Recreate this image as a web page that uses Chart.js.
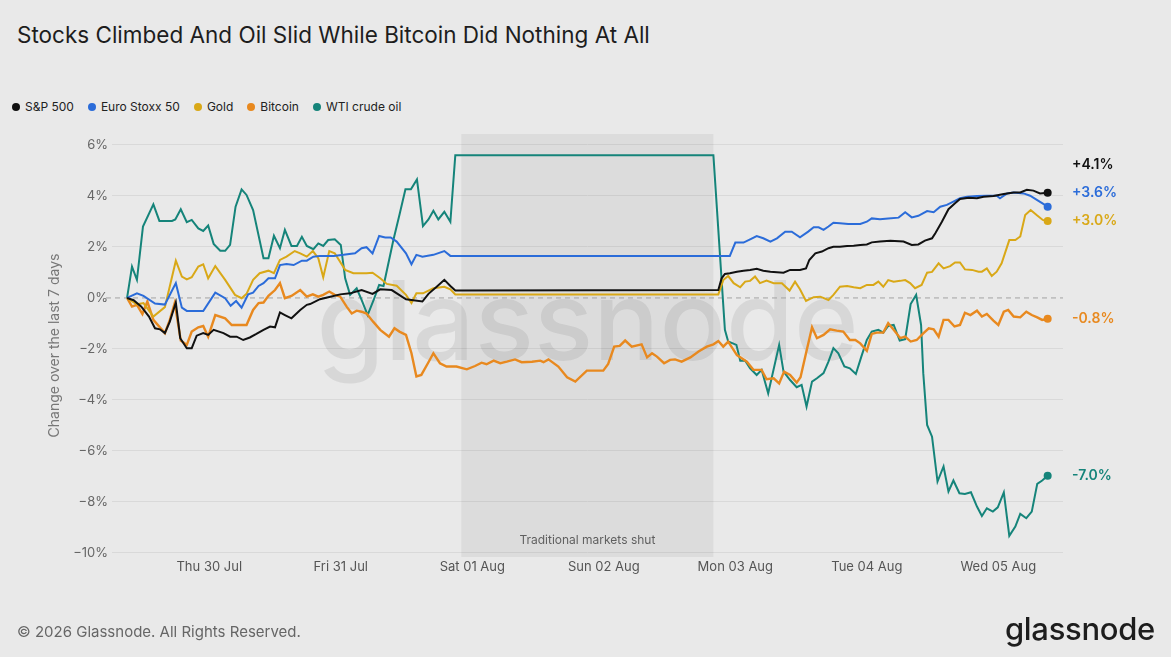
<!DOCTYPE html>
<html>
<head>
<meta charset="utf-8">
<script src="https://cdn.jsdelivr.net/npm/chart.js@4.4.1/dist/chart.umd.min.js"></script>
<style>
  html, body { margin: 0; padding: 0; background: #e9e9e9; }
  body { width: 1171px; height: 657px; position: relative; overflow: hidden; font-family: Inter, "Noto Sans", sans-serif; }
  #title { position: absolute; left: 17px; top: 21px; font-size: 22.5px; line-height: 28px; color: #1d1d1d; }
  #legend { position: absolute; left: 12px; top: 99px; display: flex; font-size: 12px; line-height: 16px; color: #222; }
  #legend .item { display: flex; align-items: center; margin-right: 14px; }
  #legend i { width: 8px; height: 8px; border-radius: 50%; margin-right: 5px; display: inline-block; }
  #footer { position: absolute; left: 17px; top: 622px; font-size: 15px; line-height: 20px; color: #666; }
  #logo { position: absolute; right: 16px; top: 611px; font-size: 31px; line-height: 36px; font-weight: 500; color: #1d1d1d; letter-spacing: -0.3px; }
  canvas { position: absolute; left: 0; top: 0; }
</style>
</head>
<body>
<div id="title">Stocks Climbed And Oil Slid While Bitcoin Did Nothing At All</div>
<div id="legend"></div>
<canvas id="chart" width="1171" height="657"></canvas>
<div id="footer">© 2026 Glassnode. All Rights Reserved.</div>
<div id="logo">glassnode</div>
<script>
// x values are hours since Wed 29 Jul 00:00
const seriesNames = ['S&P 500', 'Euro Stoxx 50', 'Gold', 'Bitcoin', 'WTI crude oil'];
const seriesColors = ['#111111', '#2b6cd9', '#d9a817', '#e8891f', '#15847a'];
const dayHours = [24, 48, 72, 96, 120, 144, 168];
const dayLabels = ['Thu 30 Jul', 'Fri 31 Jul', 'Sat 01 Aug', 'Sun 02 Aug', 'Mon 03 Aug', 'Tue 04 Aug', 'Wed 05 Aug'];
const yTicks = [-10, -8, -6, -4, -2, 0, 2, 4, 6];
const marketsShut = [70, 116];

const spx = [[9,0],[10.2,-0.09],[11.6,-0.34],[13,-0.73],[14.1,-1.19],[15,-1.23],[15.9,-1.38],[16.8,-0.93],[17.9,-0.18],[18.7,-1.58],[19.9,-1.97],[20.8,-1.97],[21.7,-1.48],[22.9,-1.38],[23.8,-1.45],[24.8,-1.25],[26.6,-1.38],[27.8,-1.52],[29,-1.52],[30.2,-1.65],[31.4,-1.55],[32.6,-1.41],[33.9,-1.25],[35.1,-1.12],[36,-1.15],[36.9,-0.57],[37.8,-0.67],[39,-0.8],[40.6,-0.47],[41.8,-0.27],[42.4,-0.24],[44.2,-0.05],[46.1,0.05],[47.9,0.14],[49.7,0.18],[51.8,0.31],[53.8,0.16],[55.2,0.34],[57.3,0.31],[59.9,-0.05],[60.9,-0.08],[62.9,-0.14],[64,0.16],[65.5,0.44],[66.9,0.71],[68,0.47],[68.9,0.29],[116.9,0.31],[117.5,0.77],[118.1,0.94],[119,0.97],[120.3,1.03],[121.5,1.07],[122.7,1.1],[123.9,1.14],[125.1,1.07],[126.4,1.03],[127.6,1.01],[128.8,0.99],[130,1.1],[131.8,1.1],[132.9,1.16],[133.5,1.49],[134.6,1.75],[135.8,1.82],[137,1.95],[137.9,2.01],[139.1,2.01],[140.4,2.04],[141.6,2.05],[142.8,2.08],[144,2.1],[144.9,2.18],[146.4,2.21],[148.3,2.24],[150.7,2.21],[152.2,2.08],[153.4,2.1],[154.6,2.25],[155.9,2.34],[156.5,2.54],[157.7,2.99],[158.9,3.48],[160.1,3.71],[161,3.88],[162.6,3.93],[164.1,3.91],[165.3,3.97],[167.1,4.0],[169,4.08],[170.8,4.14],[172,4.14],[173.2,4.24],[174.4,4.21],[175.6,4.1],[177,4.13]];

const stoxx = [[9,0],[10.8,0.18],[12,0.08],[14.1,-0.22],[15.9,-0.26],[17.9,0.58],[19,-0.38],[19.9,-0.51],[22.9,-0.51],[25.1,0.21],[26.9,-0.01],[27.9,-0.31],[28.9,-0.12],[29.9,-0.38],[31.1,0.14],[32,0.21],[33,0.47],[33.9,0.58],[34.8,0.77],[36,0.77],[36.9,1.29],[38.1,1.33],[39.4,1.29],[40.9,1.46],[41.8,1.46],[43,1.62],[44.2,1.65],[46.7,1.65],[48.5,1.69],[50.6,1.75],[51.8,1.95],[52.7,1.99],[53.8,1.75],[55,2.43],[56.1,2.37],[57.1,2.37],[58.2,2.21],[59.9,1.75],[60.9,1.32],[61.8,1.69],[62.9,1.62],[64.9,1.69],[66.9,1.84],[68,1.65],[119,1.65],[120,2.17],[121.5,2.17],[122.7,2.3],[123.9,2.43],[125.1,2.34],[126.4,2.21],[127.6,2.34],[129.1,2.6],[130.3,2.6],[131.8,2.38],[133.3,2.6],[134.3,2.77],[135.2,2.77],[136.1,2.67],[137,2.8],[137.9,2.95],[139.1,2.93],[140.6,2.9],[142.8,2.9],[144,2.99],[144.9,3.12],[146.4,3.09],[147.9,3.12],[149.8,3.15],[151,3.36],[152.2,3.16],[153.4,3.22],[155,3.41],[156.2,3.36],[157.4,3.58],[158.6,3.65],[159.8,3.78],[161,3.91],[162.3,3.97],[164.1,4.0],[165.9,4.01],[167.7,4.01],[168.3,3.91],[169.6,4.1],[170.8,4.14],[172.6,4.1],[173.8,4.01],[175.1,3.84],[176.2,3.69],[177,3.58]];

const gold = [[9,0],[10.8,-0.25],[12,-0.2],[13.8,-0.73],[15.9,-0.36],[17.9,1.46],[19,0.84],[19.9,0.73],[20.8,0.81],[22,1.23],[22.9,1.32],[23.8,0.77],[25.1,1.25],[26.9,0.71],[28.7,0.12],[29.9,-0.01],[30.8,0.16],[32,0.71],[33.2,0.97],[34.8,1.07],[35.8,0.97],[36.9,1.49],[38.1,1.62],[39.6,1.84],[40.6,1.75],[41.8,1.62],[42.9,1.84],[43.9,1.56],[44.8,0.81],[45.9,1.84],[46.9,1.75],[48.8,1.1],[50.3,0.97],[52.7,0.97],[53.8,0.99],[55.2,0.77],[56.4,0.55],[58.2,0.48],[59.9,0.12],[60.9,-0.2],[61.8,0.18],[63,0.18],[64.9,0.38],[66.9,0.44],[68,0.34],[68.9,0.14],[116.9,0.14],[117.8,0.7],[118.7,0.86],[119.7,0.58],[120.9,0.42],[121.8,0.64],[122.7,0.67],[123.6,0.84],[124.5,0.58],[125.7,0.68],[127,0.58],[128.5,0.58],[129.9,0.29],[130.9,0.64],[131.8,0.34],[132.9,-0.12],[134.3,0.03],[135.5,0.05],[137,-0.08],[137.9,0.12],[139.1,0.44],[140.4,0.47],[141.6,0.42],[142.8,0.38],[144,0.51],[145.2,0.51],[146.1,0.64],[147,0.44],[147.9,0.7],[148.9,0.64],[150.1,0.67],[151,0.7],[151.9,0.58],[152.8,0.38],[154,0.51],[155,0.99],[155.9,1.02],[157.1,1.36],[158,1.16],[159.2,1.25],[160.1,1.39],[161,1.39],[161.9,1.12],[163.2,1.1],[164.4,1.03],[165,1.03],[165.9,1.16],[166.8,0.86],[167.7,1.03],[168.6,1.36],[169.2,1.75],[170,2.27],[171.1,2.27],[172,2.41],[172.9,3.25],[173.9,3.45],[175.1,3.23],[176.1,3.06],[177,3.02]];

const bitcoin = [[9,0],[9.9,-0.34],[10.8,-0.27],[11.8,-0.63],[12.7,-0.14],[13.8,-0.86],[15.9,-1.38],[16.8,-0.86],[17.7,-0.2],[18.8,-1.67],[19.9,-1.84],[20.8,-1.32],[22,-1.15],[22.9,-1.1],[23.8,-1.52],[25.1,-0.67],[26.9,-0.8],[28.1,-1.06],[30.8,-1.06],[32,-0.47],[33,-0.2],[33.9,-0.18],[34.8,0.08],[36,0.31],[36.9,0.58],[37.8,-0.01],[39,0.08],[40.6,0.31],[41.8,0.05],[42.9,0.14],[43.9,0.05],[44.8,0.12],[45.9,0.25],[46.9,0.12],[47.9,0.05],[49.1,-0.35],[50,-0.61],[50.9,-0.5],[51.8,-0.54],[52.7,-0.61],[53.9,-0.93],[55.2,-1.25],[56.8,-1.52],[57.8,-1.19],[58.7,-1.32],[59.9,-1.45],[60.9,-2.17],[61.8,-3.08],[62.7,-3.02],[63.9,-2.56],[64.9,-2.17],[66.1,-2.56],[67.3,-2.69],[69.1,-2.69],[71,-2.8],[72.5,-2.67],[73.7,-2.54],[74.6,-2.6],[75.9,-2.46],[77.1,-2.56],[78.3,-2.5],[79.8,-2.41],[81,-2.52],[82.9,-2.5],[84.4,-2.46],[85,-2.52],[85.9,-2.41],[87.7,-2.69],[89.3,-3.11],[90.8,-3.28],[92.9,-2.85],[95.9,-2.85],[96.8,-2.59],[97.9,-1.91],[98.9,-1.88],[99.9,-1.67],[101.1,-1.91],[102.9,-1.82],[103.9,-2.33],[104.8,-2.17],[105.7,-2.3],[107,-2.56],[108.1,-2.43],[109,-2.41],[110.2,-2.5],[111.8,-2.33],[113.3,-2.1],[114.8,-1.91],[116,-1.82],[116.9,-1.69],[117.8,-1.91],[118.7,-1.71],[120.3,-2.24],[122.1,-2.5],[123.3,-2.82],[124.8,-2.82],[125.7,-3.19],[127,-3.15],[128,-3.35],[128.9,-2.89],[130,-3.02],[131.2,-3.32],[131.9,-3.11],[132.9,-2.17],[134,-1.15],[134.9,-1.58],[136.1,-1.45],[137.3,-1.23],[138.5,-1.28],[139.7,-1.32],[140.9,-1.65],[141.9,-1.65],[142.8,-1.78],[144,-2.07],[144.9,-1.41],[145.8,-1.36],[147,-1.36],[147.9,-0.99],[148.9,-1.25],[150.1,-1.58],[151,-1.52],[152,-1.71],[153.1,-1.65],[154.3,-1.39],[155.3,-1.19],[156.2,-1.23],[157.1,-1.52],[158,-0.86],[158.9,-0.86],[160,-1.12],[161,-1.06],[161.9,-0.58],[162.9,-0.67],[164.1,-0.5],[165,-0.73],[165.9,-0.63],[167.1,-0.89],[168,-1.06],[169,-0.54],[169.8,-0.47],[170.8,-0.73],[172,-0.76],[173.1,-0.54],[174.1,-0.67],[175.1,-0.76],[176,-0.86],[177,-0.82]];

const wti = [[9,0],[9.9,1.23],[10.8,0.71],[11.9,2.8],[13.8,3.67],[14.9,3.02],[17.2,3.02],[17.8,3.08],[18.8,3.48],[19.9,2.97],[20.8,3.06],[22,2.73],[22.9,2.63],[23.8,2.84],[24.8,2.12],[26,1.85],[26.9,1.85],[27.8,2.08],[28.8,3.58],[29.9,4.26],[30.8,4.04],[32,3.45],[33.9,1.56],[34.8,1.56],[35.8,2.44],[36.9,1.95],[37.8,2.67],[39,2.04],[40,2.04],[40.9,2.4],[41.8,2.04],[43,1.91],[43.9,2.14],[44.8,2.04],[45.7,2.27],[46.9,2.3],[48,2.08],[48.8,0.77],[49.7,0.12],[50.9,0.38],[51.8,-0.08],[52.9,-0.67],[54,-0.08],[55,0.51],[55.8,0.47],[57.6,2.27],[58.7,3.25],[59.8,4.26],[60.8,4.26],[61.9,4.65],[63,2.82],[64,3.08],[64.9,3.42],[65.8,3.08],[66.9,3.38],[68,2.99],[68.9,5.6],[116,5.6],[118.1,-1.25],[118.7,-1.71],[120.2,-1.84],[120.9,-2.46],[121.8,-2.46],[122.7,-2.76],[123.9,-3.02],[124.8,-2.82],[126,-3.74],[128,-1.84],[128.8,-2.89],[130,-3.22],[131.2,-3.5],[132.1,-3.41],[133,-4.26],[134,-3.28],[134.9,-3.15],[136.1,-2.95],[137,-2.5],[137.9,-1.97],[138.8,-2.17],[139.9,-2.69],[140.9,-2.76],[142,-2.98],[143,-2.3],[144,-1.65],[144.9,-1.32],[146.1,-1.25],[147,-1.36],[147.9,-1.1],[148.9,-1.06],[150,-1.67],[151,-1.62],[152,-0.24],[153,0.12],[153.9,-1.06],[154.3,-2.95],[155,-4.98],[155.9,-5.44],[156.9,-7.2],[158,-6.61],[158.9,-7.59],[159.8,-7.16],[160.9,-7.66],[161.9,-7.69],[163,-7.62],[164.1,-8.18],[165,-8.55],[165.9,-8.25],[167,-8.38],[167.9,-8.21],[169,-7.63],[170,-9.33],[171.1,-8.97],[172,-8.47],[173.1,-8.64],[174.1,-8.38],[175.1,-7.29],[176,-7.16],[177,-6.97]];

const allSeries = [spx, stoxx, gold, bitcoin, wti];

// html legend
const legend = document.getElementById('legend');
seriesNames.forEach((name, i) => {
  const item = document.createElement('span');
  item.className = 'item';
  item.innerHTML = '<i style="background:' + seriesColors[i] + '"></i>' + name.replace('&', '&amp;');
  legend.appendChild(item);
});

Chart.defaults.font.family = 'Inter, "Noto Sans", sans-serif';

const fmtEnd = v => (v >= 0 ? '+' : '-') + Math.abs(v).toFixed(1) + '%';

const decor = {
  id: 'decor',
  beforeDatasetsDraw(chart) {
    const { ctx, chartArea: a, scales: { x, y } } = chart;
    ctx.save();
    // weekend shading
    const x0 = x.getPixelForValue(marketsShut[0]);
    const x1 = x.getPixelForValue(marketsShut[1]);
    ctx.fillStyle = 'rgba(0,0,0,0.055)';
    ctx.fillRect(x0, a.top, x1 - x0, a.bottom - a.top);
    ctx.fillStyle = '#5f5f5f';
    ctx.font = '12px Inter, sans-serif';
    ctx.textAlign = 'center';
    ctx.textBaseline = 'middle';
    ctx.fillText('Traditional markets shut', (x0 + x1) / 2, a.bottom - 17);
    // watermark
    ctx.font = '500 110px Inter, sans-serif';
    ctx.fillStyle = 'rgba(0,0,0,0.075)';
    ctx.textBaseline = 'alphabetic';
    ctx.fillText('glassnode', (a.left + a.right) / 2, y.getPixelForValue(-2.43));
    // zero line
    const y0 = y.getPixelForValue(0);
    ctx.strokeStyle = '#a3a3a3';
    ctx.lineWidth = 1;
    ctx.setLineDash([5, 4]);
    ctx.beginPath();
    ctx.moveTo(a.left - 6, y0);
    ctx.lineTo(a.right, y0);
    ctx.stroke();
    ctx.restore();
  },
  afterDatasetsDraw(chart) {
    const { ctx, chartArea: a, scales: { y } } = chart;
    const items = chart.data.datasets.map(ds => {
      const last = ds.data[ds.data.length - 1];
      return { y: y.getPixelForValue(last.y), v: last.y, c: ds.borderColor };
    });
    items.sort((p, q) => q.y - p.y);
    for (let i = 1; i < items.length; i++) {
      if (items[i].y > items[i - 1].y - 28) items[i].y = items[i - 1].y - 28;
    }
    ctx.save();
    ctx.font = '600 14px Inter, sans-serif';
    ctx.textAlign = 'left';
    ctx.textBaseline = 'middle';
    items.forEach(it => {
      ctx.fillStyle = it.c;
      ctx.fillText(fmtEnd(it.v), a.right + 9, it.y);
    });
    ctx.restore();
  }
};

new Chart(document.getElementById('chart'), {
  type: 'line',
  data: {
    datasets: allSeries.map((s, i) => ({
      label: seriesNames[i],
      data: s.map(p => ({ x: p[0], y: p[1] })),
      borderColor: seriesColors[i],
      backgroundColor: seriesColors[i],
      borderWidth: i === 3 ? 2.4 : 2,
      tension: 0,
      pointRadius: c => (c.dataIndex === c.dataset.data.length - 1 ? 4 : 0),
      pointBorderWidth: 0,
      pointBackgroundColor: seriesColors[i]
    }))
  },
  options: {
    responsive: false,
    animation: false,
    devicePixelRatio: 1,
    layout: { padding: { top: 134, left: 0, right: 108, bottom: 70 } },
    plugins: { legend: { display: false }, tooltip: { enabled: false } },
    scales: {
      x: {
        type: 'linear',
        min: 6.25,
        max: 179.8,
        afterBuildTicks: s => { s.ticks = dayHours.map(v => ({ value: v })); },
        afterFit: s => { s.height = 30; },
        grid: { display: false, drawTicks: false },
        border: { display: false },
        ticks: {
          autoSkip: false,
          maxRotation: 0,
          padding: 2,
          color: '#555',
          font: { size: 13 },
          callback: v => dayLabels[dayHours.indexOf(v)]
        }
      },
      y: {
        min: -10.16,
        max: 6.43,
        afterBuildTicks: s => { s.ticks = yTicks.map(v => ({ value: v })); },
        afterFit: s => { s.width = 112; },
        border: { display: false },
        grid: {
          drawTicks: false,
          color: c => (c.tick && c.tick.value === 0 ? 'rgba(0,0,0,0)' : '#d9d9d9')
        },
        ticks: {
          padding: 4,
          color: '#666',
          font: { size: 13 },
          callback: v => (v < 0 ? '\u2212' + Math.abs(v) : v) + '%'
        },
        title: {
          display: true,
          text: 'Change over the last 7 days',
          color: '#777',
          font: { size: 14 },
          padding: { top: 46, bottom: 0 }
        }
      }
    }
  },
  plugins: [decor]
});
</script>
</body>
</html>
